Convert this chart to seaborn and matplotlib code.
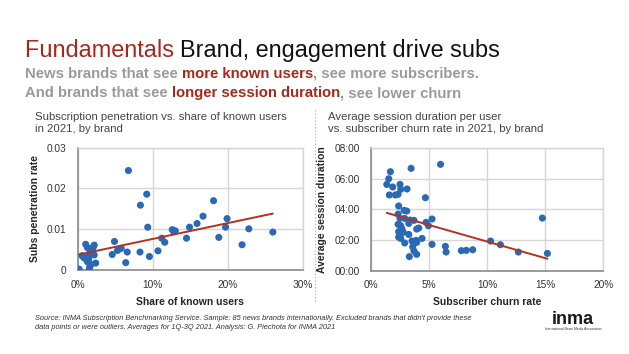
import matplotlib
matplotlib.use("Agg")
import matplotlib.pyplot as plt
import matplotlib.ticker as mticker
from matplotlib.lines import Line2D
import seaborn as sns
import pandas as pd

# ---------------- data ----------------
share_known_pct = [0.2, 6.76, 9.2, 8.36, 9.33, 9.56, 8.3, 6.6, 6.4, 4.9, 4.6, 5.3, 5.5, 5.8,
                   10.7, 11.2, 11.6, 12.6, 12.8, 12.8, 13.0, 14.5, 14.9, 15.9, 16.7, 18.1,
                   18.8, 19.7, 19.9, 21.9, 22.8, 26.0,
                   1.07, 1.3, 1.55, 1.95, 2.2, 2.0, 2.2, 2.4, 1.6, 1.55, 1.8, 0.58, 0.84,
                   1.1, 1.3, 1.47, 1.4, 1.7, 2.1]
subs_penetration = [0.0002, 0.0244, 0.0186, 0.0159, 0.0105, 0.0033, 0.0044, 0.0044, 0.0018,
                    0.0070, 0.0038, 0.0048, 0.0051, 0.0053, 0.0047, 0.0078, 0.0068, 0.0099,
                    0.0096, 0.0094, 0.0096, 0.0078, 0.0105, 0.0114, 0.0132, 0.0170, 0.0080,
                    0.0105, 0.0126, 0.0062, 0.0101, 0.0093,
                    0.0063, 0.0055, 0.0051, 0.0053, 0.0061, 0.0047, 0.0037, 0.0017, 0.0007,
                    0.0002, 0.0014, 0.0035, 0.0030, 0.0027, 0.0020, 0.0027, 0.0033, 0.0041,
                    0.0057]

churn_pct = [1.38, 1.55, 1.69, 1.6, 1.89, 2.12, 2.35, 2.52, 2.58, 3.12, 3.47, 6.0, 4.7,
             2.4, 2.35, 2.87, 3.1, 2.52, 2.92, 3.38, 3.72, 4.76, 5.27, 4.96, 3.27, 2.35,
             2.58, 2.69, 2.4, 2.52, 2.8, 3.27, 3.95, 4.13, 2.4, 2.58, 2.92, 3.55, 3.72,
             3.9, 3.95, 3.61, 3.72, 3.95, 3.32, 4.41, 5.27, 6.42, 6.48, 7.79, 8.22, 8.77,
             10.3, 11.15, 12.69, 14.76, 15.19]
session_min = [5.64, 6.01, 6.47, 4.95, 5.47, 4.95, 4.99, 5.64, 5.32, 5.34, 6.69, 6.95, 4.77,
               4.23, 3.70, 3.94, 3.90, 3.42, 3.42, 3.31, 3.29, 3.16, 3.38, 2.94, 3.09, 3.03,
               2.94, 2.72, 2.55, 2.42, 2.51, 2.37, 2.72, 2.79, 2.20, 2.11, 1.81, 1.94, 1.81,
               1.98, 1.85, 1.55, 1.29, 1.07, 0.92, 2.11, 1.72, 1.59, 1.22, 1.31, 1.33, 1.37,
               1.94, 1.70, 1.22, 3.44, 1.13]

left_xticks = [0, 10, 20, 30]
left_yticks = [0, 0.01, 0.02, 0.03]
right_xticks = [0, 5, 10, 15, 20]
right_yticks = [0, 2, 4, 6, 8]

df_left = pd.DataFrame({"share": share_known_pct, "subs": subs_penetration})
df_right = pd.DataFrame({"churn": churn_pct, "dur": session_min})

# ---------------- style ----------------
sns.set_theme(style="white")
plt.rcParams["font.family"] = ["Liberation Sans", "DejaVu Sans"]

RED = "#a8281c"
GRAY = "#9a9a9a"
BLUE = "#2a69b3"
LINE = "#b8301f"
GRID = "#d6d6d6"

fig = plt.figure(figsize=(6.29, 3.54), dpi=100)
fig.patch.set_facecolor("white")

ax1 = fig.add_axes([0.1235, 0.2373, 0.358, 0.3455])
ax2 = fig.add_axes([0.5894, 0.2353, 0.3698, 0.3458])


def style_axes(ax):
    ax.grid(True, color=GRID, linewidth=1.0)
    ax.set_axisbelow(True)
    for s in ["top", "right"]:
        ax.spines[s].set_color(GRID)
        ax.spines[s].set_linewidth(1.0)
    for s in ["left", "bottom"]:
        ax.spines[s].set_color("#8a8a8a")
        ax.spines[s].set_linewidth(1.2)
    ax.tick_params(axis="both", length=0, labelsize=7.3, colors="#333333")
    ax.tick_params(axis="x", pad=7)
    ax.tick_params(axis="y", pad=8)


sns.regplot(data=df_left, x="share", y="subs", ax=ax1, ci=None, truncate=True,
            scatter_kws=dict(s=26, color=BLUE, edgecolor="none", alpha=1, zorder=3),
            line_kws=dict(color=LINE, linewidth=1.4, zorder=4))
ax1.set_xlim(0, 30)
ax1.set_ylim(0, 0.03)
ax1.set_xticks(left_xticks)
ax1.set_yticks(left_yticks)
ax1.xaxis.set_major_formatter(mticker.PercentFormatter(100, decimals=0))
ax1.yaxis.set_major_formatter(mticker.FuncFormatter(lambda v, p: "0" if v == 0 else f"{v:.2f}"))
ax1.set_xlabel("Share of known users", fontsize=7.5, fontweight="bold", labelpad=5)
ax1.set_ylabel("Subs penetration rate", fontsize=7.5, fontweight="bold", labelpad=5)
style_axes(ax1)

sns.regplot(data=df_right, x="churn", y="dur", ax=ax2, ci=None, truncate=True,
            scatter_kws=dict(s=26, color=BLUE, edgecolor="none", alpha=1, zorder=3),
            line_kws=dict(color=LINE, linewidth=1.4, zorder=4))
ax2.set_xlim(0, 20)
ax2.set_ylim(0, 8)
ax2.set_xticks(right_xticks)
ax2.set_yticks(right_yticks)
ax2.xaxis.set_major_formatter(mticker.PercentFormatter(100, decimals=0))
ax2.yaxis.set_major_formatter(mticker.FuncFormatter(
    lambda v, p: f"{int(v):02d}:{int(round((v % 1) * 60)):02d}"))
ax2.set_xlabel("Subscriber churn rate", fontsize=7.5, fontweight="bold", labelpad=5)
ax2.set_ylabel("Average session duration", fontsize=7.5, fontweight="bold", labelpad=5)
style_axes(ax2)

# ---------------- texts ----------------
renderer = fig.canvas.get_renderer()


def rich(x, y, parts, **kw):
    for s, c in parts:
        t = fig.text(x, y, s, color=c, **kw)
        bb = t.get_window_extent(renderer)
        x += bb.width / fig.bbox.width


def fy(py):
    return 1 - py / 354.0


def fx(px):
    return px / 629.0


rich(fx(25), fy(57), [("Fundamentals ", RED), ("Brand, engagement drive subs", "#111111")],
     fontsize=16.9, va="baseline")
rich(fx(25), fy(78), [("News brands that see ", GRAY), ("more known users", RED),
                      (", see more subscribers.", GRAY)],
     fontsize=10.75, fontweight="bold", va="baseline")
rich(fx(25), fy(97), [("And brands that see ", GRAY), ("longer session duration", RED),
                      (", see lower churn", GRAY)],
     fontsize=10.75, fontweight="bold", va="baseline")

fig.text(fx(35), fy(120), "Subscription penetration vs. share of known users",
         fontsize=8.2, color="#444444", va="baseline")
fig.text(fx(35), fy(132), "in 2021, by brand", fontsize=8.2, color="#444444", va="baseline")
fig.text(fx(328), fy(120), "Average session duration per user",
         fontsize=8.2, color="#444444", va="baseline")
fig.text(fx(328), fy(132), "vs. subscriber churn rate in 2021, by brand",
         fontsize=8.2, color="#444444", va="baseline")

fig.add_artist(Line2D([fx(315), fx(315)], [fy(110), fy(302)], color="#aaaaaa",
                      linewidth=0.8, linestyle=(0, (1, 2)), transform=fig.transFigure))

fig.text(fx(35), fy(320), "Source: INMA Subscription Benchmarking Service. Sample: 85 news brands "
         "internationally. Excluded brands that didn't provide these",
         fontsize=5.3, style="italic", color="#333333", va="baseline")
fig.text(fx(35), fy(329), "data points or were outliers. Averages for 1Q-3Q 2021. "
         "Analysis: G. Piechota for INMA 2021",
         fontsize=5.3, style="italic", color="#333333", va="baseline")

fig.text(fx(573), fy(324), "inma", fontsize=13, fontweight="bold", color="#1a1a1a",
         ha="center", va="baseline")
fig.text(fx(573), fy(330), "International News Media Association", fontsize=2.4,
         color="#333333", ha="center", va="baseline")

fig.savefig("out.png", dpi=100, facecolor="white")
